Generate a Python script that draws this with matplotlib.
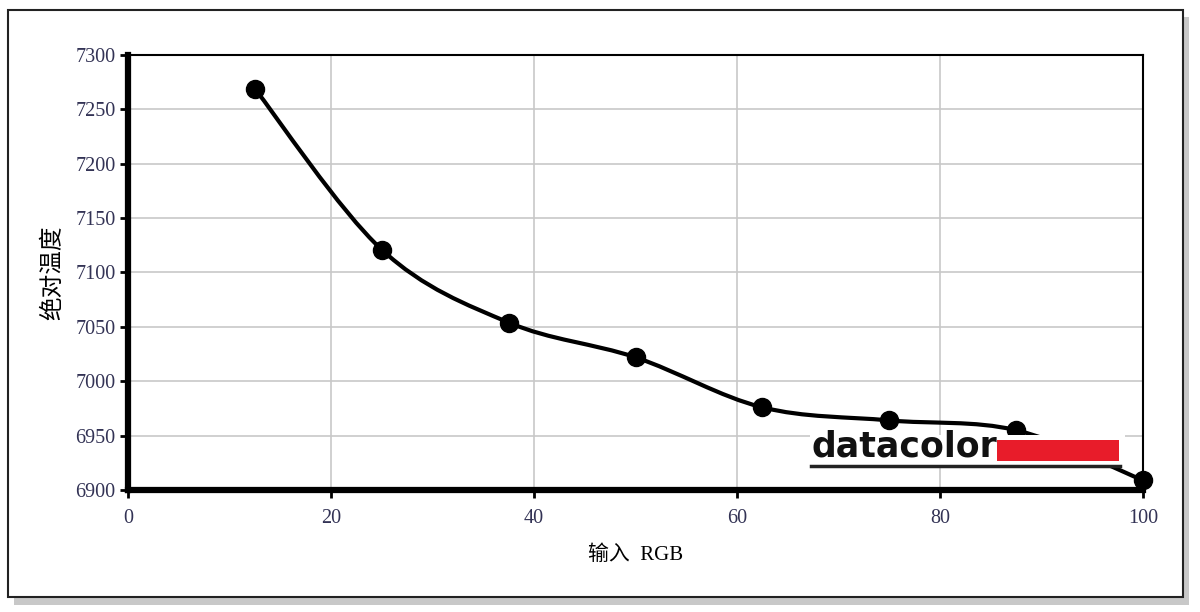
import matplotlib.pyplot as plt
from matplotlib.path import Path
from matplotlib.patches import PathPatch, Rectangle

plt.rcParams['font.family'] = ['Liberation Serif', 'Noto Sans CJK SC', 'DejaVu Sans']

rgb_input = [12.5, 25, 37.5, 50, 62.5, 75, 87.5, 100]
abs_temp = [7269, 7121, 7054, 7022, 6976, 6964, 6955, 6909]
x_ticks = [0, 20, 40, 60, 80, 100]
y_ticks = [6900, 6950, 7000, 7050, 7100, 7150, 7200, 7250, 7300]


def smooth_path(xs, ys):
    # Catmull-Rom through the points, as cubic Bezier segments
    verts = [(xs[0], ys[0])]
    codes = [Path.MOVETO]
    n = len(xs)
    for i in range(n - 1):
        x0, y0 = (xs[i - 1], ys[i - 1]) if i > 0 else (xs[i], ys[i])
        x1, y1 = xs[i], ys[i]
        x2, y2 = xs[i + 1], ys[i + 1]
        x3, y3 = (xs[i + 2], ys[i + 2]) if i + 2 < n else (x2, y2)
        c1 = (x1 + (x2 - x0) / 6, y1 + (y2 - y0) / 6)
        c2 = (x2 - (x3 - x1) / 6, y2 - (y3 - y1) / 6)
        verts += [c1, c2, (x2, y2)]
        codes += [Path.CURVE4] * 3
    return Path(verts, codes)


fig = plt.figure(figsize=(12, 6.12), dpi=100)

# outer frame with drop shadow
fig.patches.append(Rectangle((14 / 1200, 0.012), 1175 / 1200, 0.96,
                             transform=fig.transFigure, facecolor='#c8c8c8',
                             edgecolor='none', zorder=0))
fig.patches.append(Rectangle((8 / 1200, 15 / 612), 1175 / 1200, 587 / 612,
                             transform=fig.transFigure, facecolor='white',
                             edgecolor='#222222', linewidth=1.5, zorder=1))

ax = fig.add_axes([128 / 1200, 1 - 490 / 612, 1015 / 1200, 435 / 612])
ax.set_zorder(2)

ax.add_patch(PathPatch(smooth_path(rgb_input, abs_temp), facecolor='none',
                       edgecolor='black', linewidth=3, zorder=3))
ax.plot(rgb_input, abs_temp, 'o', color='black', markersize=13, zorder=4,
        clip_on=False)

ax.set_xlim(0, 100)
ax.set_ylim(6900, 7300)
ax.set_xticks(x_ticks)
ax.set_yticks(y_ticks)
ax.grid(True, color='#c8c8c8', linewidth=1.2)
ax.set_axisbelow(True)

for side in ['top', 'right']:
    ax.spines[side].set_linewidth(1.5)
for side in ['left', 'bottom']:
    ax.spines[side].set_linewidth(4.5)

ax.tick_params(axis='both', length=6, width=2, labelsize=14.5, colors='black')
ax.tick_params(axis='x', pad=8)
ax.tick_params(axis='y', pad=3)
for lab in ax.get_xticklabels() + ax.get_yticklabels():
    lab.set_color('#333355')

ax.set_xlabel('输入  RGB', fontsize=15, labelpad=12)
ax.set_ylabel('绝对温度', fontsize=17, labelpad=8)

# datacolor logo
ax.add_patch(Rectangle((67.2, 6921), 31, 29.5, facecolor='white',
                       edgecolor='none', zorder=5))
ax.text(67.3, 6940, 'datacolor', fontsize=25, fontweight='bold',
        family='DejaVu Sans', color='#111111', va='center', ha='left', zorder=6)
ax.add_patch(Rectangle((85.6, 6927), 12.0, 19, facecolor='#e81c2a',
                       edgecolor='none', zorder=6))
ax.plot([67.3, 97.7], [6922.5, 6922.5], color='#222222', linewidth=2.5,
        zorder=6)

fig.savefig('out.png', dpi=100)
